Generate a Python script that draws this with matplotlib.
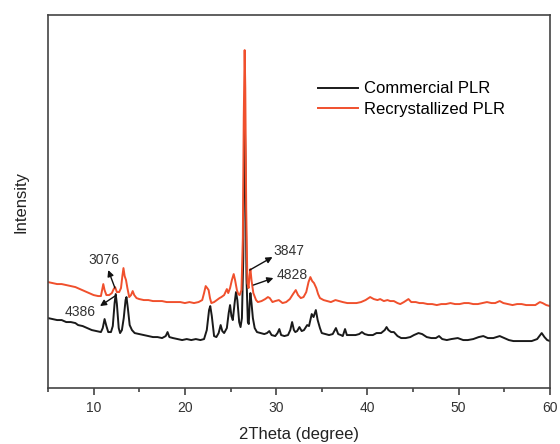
import matplotlib
matplotlib.use("Agg")
import matplotlib.pyplot as plt
import numpy as np

plt.rcParams["font.family"] = ["Liberation Sans", "DejaVu Sans"]

# 2theta (deg) and intensity (a.u.)
two_theta_comm = [5.0, 5.5, 6.0, 6.5, 7.0, 7.5, 8.0, 8.3, 8.8, 9.3, 9.8, 10.3, 10.8, 11.0, 11.2, 11.4,
                  11.6, 11.9, 12.1, 12.3, 12.42, 12.55, 12.75, 12.9, 13.1, 13.3, 13.5, 13.6, 13.75, 13.95,
                  14.2, 14.5, 15.0, 15.5, 16.0, 16.5, 17.0, 17.5, 17.9, 18.1, 18.3, 18.7, 19.2, 19.7, 20.2,
                  20.7, 21.2, 21.7, 22.1, 22.4, 22.65, 22.78, 22.95, 23.2, 23.45, 23.7, 23.92, 24.1, 24.3,
                  24.6, 24.8, 24.95, 25.1, 25.25, 25.45, 25.6, 25.75, 25.95, 26.1, 26.25, 26.4, 26.5, 26.56,
                  26.63, 26.75, 26.9, 27.0, 27.1, 27.18, 27.3, 27.45, 27.65, 27.9, 28.3, 28.7, 29.0, 29.25,
                  29.5, 29.9, 30.15, 30.35, 30.55, 30.9, 31.3, 31.55, 31.75, 31.95, 32.1, 32.3, 32.55, 32.8,
                  33.05, 33.4, 33.6, 33.9, 34.1, 34.35, 34.55, 34.8, 35.0, 35.4, 35.8, 36.2, 36.55, 36.8,
                  37.1, 37.3, 37.55, 37.75, 38.2, 38.7, 39.1, 39.4, 39.7, 40.1, 40.6, 41.0, 41.5, 41.9,
                  42.1, 42.3, 42.6, 42.9, 43.3, 43.7, 44.2, 44.7, 45.1, 45.6, 46.0, 46.5, 47.0, 47.5, 47.85,
                  48.2, 48.7, 49.2, 49.9, 50.5, 51.0, 51.6, 52.2, 52.7, 53.2, 53.8, 54.5, 55.0, 55.5, 56.0,
                  56.5, 57.0, 57.5, 58.0, 58.6, 59.1, 59.4, 59.7, 60.0]
int_comm = [70, 69, 68, 68, 66, 66, 65, 63, 62, 60, 58, 57, 56, 60, 69, 62,
            56, 56, 62, 85, 94, 84, 60, 55, 58, 70, 88, 91, 80, 63,
            58, 55, 54, 53, 52, 51, 51, 50, 52, 56, 51, 50, 49, 48, 49,
            48, 49, 48, 49, 58, 78, 82, 72, 52, 51, 55, 63, 57, 55,
            60, 75, 83, 72, 68, 85, 96, 88, 66, 61, 70, 130, 240, 273,
            230, 110, 66, 64, 85, 95, 85, 70, 60, 56, 55, 54, 55, 57,
            53, 52, 55, 59, 53, 52, 53, 58, 66, 58, 56, 57, 61, 57,
            58, 63, 62, 74, 71, 78, 68, 60, 55, 54, 53, 54, 60, 54,
            53, 52, 59, 53, 53, 53, 54, 56, 54, 53, 53, 55, 55, 58,
            61, 58, 56, 56, 52, 50, 50, 51, 53, 55, 54, 51, 50, 50, 52,
            49, 48, 49, 50, 48, 48, 49, 51, 52, 50, 50, 52, 50, 48, 47,
            47, 47, 47, 47, 49, 55, 51, 48, 47]

two_theta_recr = [5.0, 5.5, 6.0, 6.5, 7.0, 7.5, 8.0, 8.5, 9.0, 9.5, 10.0, 10.5, 10.8, 10.95, 11.06, 11.2,
                  11.4, 11.7, 12.0, 12.2, 12.35, 12.55, 12.8, 13.0, 13.15, 13.27, 13.4, 13.55, 13.7, 13.9,
                  14.1, 14.28, 14.45, 14.7, 15.0, 15.5, 16.0, 16.5, 17.0, 17.5, 18.0, 18.5, 19.0, 19.5,
                  20.0, 20.5, 21.0, 21.5, 21.9, 22.1, 22.28, 22.45, 22.6, 22.75, 22.9, 23.2, 23.5, 23.8,
                  24.0, 24.3, 24.6, 24.75, 24.95, 25.15, 25.35, 25.5, 25.7, 25.85, 26.0, 26.2, 26.35, 26.45,
                  26.55, 26.62, 26.72, 26.85, 26.98, 27.08, 27.18, 27.3, 27.5, 27.8, 28.0, 28.4, 28.8, 29.1,
                  29.3, 29.6, 29.9, 30.3, 30.7, 31.1, 31.5, 31.85, 32.15, 32.4, 32.7, 33.0, 33.3, 33.55,
                  33.75, 33.95, 34.15, 34.4, 34.6, 34.8, 35.2, 35.6, 36.0, 36.5, 36.9, 37.3, 37.8, 38.3,
                  38.8, 39.3, 39.8, 40.3, 40.7, 41.1, 41.4, 41.8, 42.2, 42.5, 42.9, 43.3, 43.6, 44.0, 44.5,
                  44.8, 45.3, 45.7, 46.1, 46.6, 47.1, 47.6, 48.1, 48.6, 49.1, 49.6, 50.1, 50.6, 51.1, 51.6,
                  52.1, 52.6, 53.1, 53.6, 54.0, 54.5, 54.9, 55.4, 55.9, 56.4, 56.9, 57.4, 57.9, 58.4, 58.9,
                  59.2, 59.6, 60.0]
int_recr = [106, 105, 104, 104, 103, 102, 101, 99, 97, 95, 93, 92, 92, 99, 104, 98,
            93, 93, 95, 99, 101, 96, 96, 100, 112, 120, 112, 108, 100, 91,
            93, 97, 93, 90, 89, 88, 88, 87, 87, 87, 86, 86, 86, 86,
            85, 86, 85, 86, 88, 95, 102, 100, 98, 90, 85, 86, 88, 90,
            91, 93, 99, 95, 100, 108, 114, 108, 98, 94, 93, 98, 150, 270,
            338, 300, 180, 105, 100, 112, 119, 108, 95, 88, 86, 87, 89, 91,
            90, 86, 87, 88, 85, 86, 89, 94, 98, 93, 90, 91, 96, 106,
            111, 107, 105, 100, 94, 90, 88, 87, 86, 88, 87, 86, 85, 85,
            85, 86, 88, 91, 89, 88, 89, 87, 88, 87, 87, 85, 84, 86, 89,
            86, 86, 85, 85, 84, 84, 83, 84, 84, 85, 84, 84, 85, 85, 84,
            84, 85, 86, 85, 85, 87, 85, 84, 83, 84, 84, 83, 83, 83, 86,
            85, 83, 82]

series_labels = ["Commercial PLR", "Recrystallized PLR"]

# peak labels: text, text position, arrow tail (on peak), arrow head (near text)
peak_text = ["3076", "4386", "3847", "4828"]
peak_text_xy = [(11.1, 128), (8.5, 76), (31.4, 137), (31.8, 113)]
peak_tail = [(12.34, 100), (12.5, 93), (27.1, 118), (27.5, 103)]
peak_head = [(11.6, 118), (10.7, 82), (29.6, 131), (29.7, 110)]

fig = plt.figure(figsize=(5.6, 4.44), dpi=100)
ax = fig.add_axes([0.0857, 0.126, 0.8963, 0.840])

ax.plot(two_theta_comm, int_comm, color="#1a1a1a", lw=1.4, label=series_labels[0])
ax.plot(two_theta_recr, int_recr, color="#f0502d", lw=1.4, label=series_labels[1])

for txt, txy, tail, head in zip(peak_text, peak_text_xy, peak_tail, peak_head):
    ax.text(txy[0], txy[1], txt, fontsize=10, color="#333333", ha="center", va="center")
    ax.annotate("", xy=head, xytext=tail,
                arrowprops=dict(arrowstyle="-|>", color="#111111", lw=1.0,
                                mutation_scale=9, shrinkA=0, shrinkB=0))

ax.set_xlim(5, 60)
ax.set_ylim(0, 373)
ax.set_xticks(np.arange(10, 61, 10))
ax.set_xticks(np.arange(5, 60, 10), minor=True)
ax.set_yticks([])
ax.tick_params(axis="x", which="major", direction="out", length=5, width=1.1,
               labelsize=10, colors="#333333", pad=4)
ax.tick_params(axis="x", which="minor", direction="out", length=3, width=1.1, colors="#333333")
for sp in ax.spines.values():
    sp.set_linewidth(1.2)
    sp.set_color("#444444")

ax.set_xlabel("2Theta (degree)", fontsize=12, color="#222222", labelpad=9)
ax.set_ylabel("Intensity", fontsize=12, color="#222222", labelpad=14)

ax.legend(loc="upper left", bbox_to_anchor=(0.525, 0.84), frameon=False, fontsize=12,
          handlelength=2.4, handletextpad=0.35, labelspacing=0.35, borderaxespad=0)

fig.savefig("out.png", dpi=100)
